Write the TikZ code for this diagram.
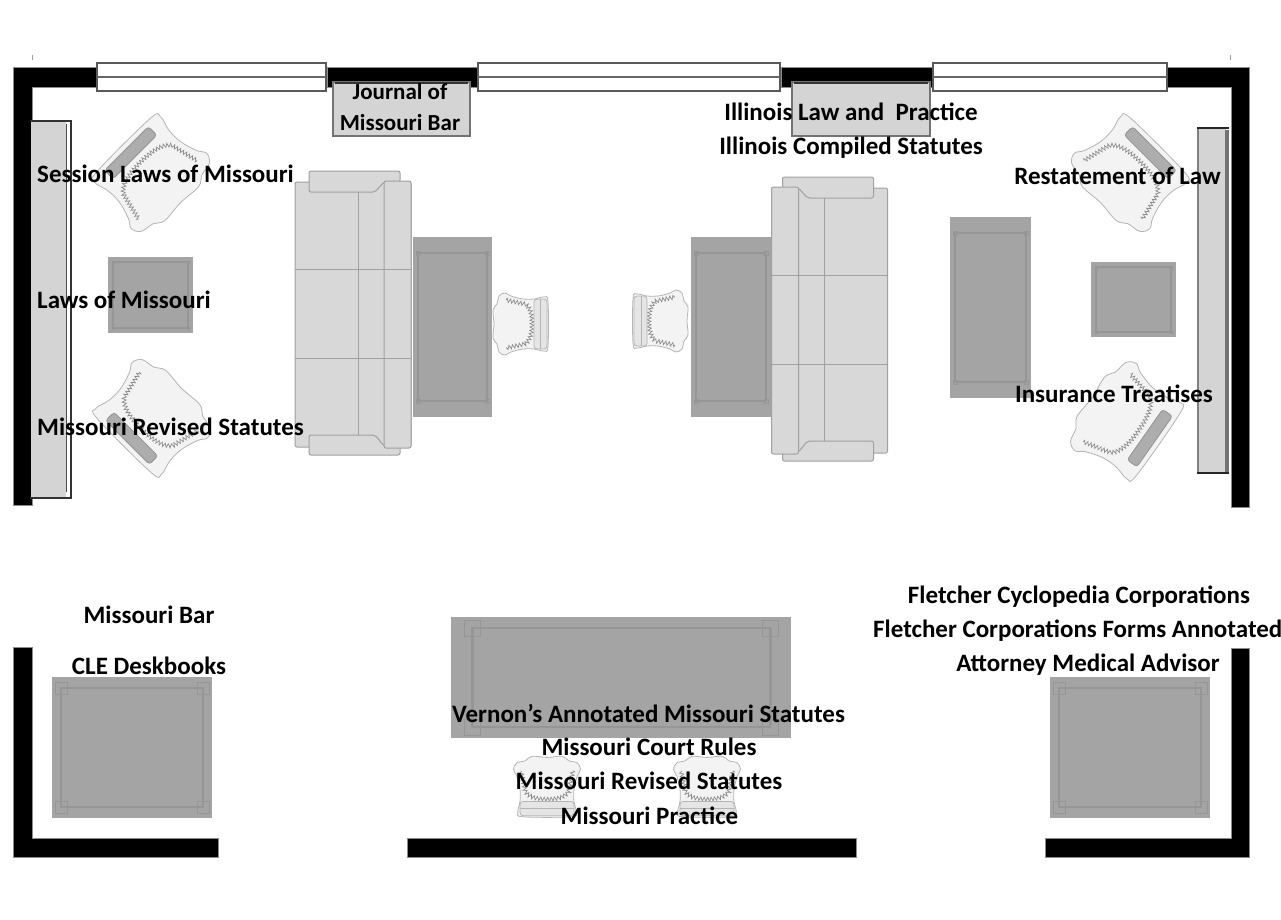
\documentclass[tikz,border=0pt]{standalone}
\usepackage{fontspec}
\setmainfont{Carlito}
\usetikzlibrary{decorations.pathmorphing}
\definecolor{shelfgray}{HTML}{D4D4D4}
\definecolor{tablegray}{HTML}{A4A4A4}
\definecolor{tableline}{HTML}{969696}
\definecolor{sofagray}{HTML}{D8D8D8}
\definecolor{sofaline}{HTML}{A0A0A0}
\definecolor{chairfill}{HTML}{F3F3F3}
\definecolor{chairline}{HTML}{B4B4B4}
\newcommand{\chairseat}{
  \draw[chairpart] plot[smooth cycle, tension=.6] coordinates {
    (-26,0) (-27,-14) (-23,-20) (-21,-28) (-15,-31) (-9,-28) (3,-25) (14,-25) (24,-27) (28,-22)
    (28,22) (24,27) (14,25) (3,25) (-9,28) (-15,31) (-21,28) (-23,20) (-27,14)};
  \draw[black!45, line width=.7pt, decorate, decoration={zigzag, segment length=3.5pt, amplitude=2pt}]
    (-14,-24) -- (5,-20) .. controls (10,-17) and (12,-10) .. (12,0) .. controls (12,10) and (10,17) .. (5,20) -- (-14,24);
}
\tikzset{
  wall/.style={fill=black, draw=black!45, line width=1pt},
  windowpane/.style={fill=white, draw=black!65, line width=2pt},
  shelf/.style={fill=shelfgray, draw=black!55, line width=1.5pt},
  booklabel/.style={font=\fontsize{25}{29}\selectfont\bfseries, inner sep=0pt, text=black},
  shelflabel/.style={booklabel, font=\fontsize{23}{27}\selectfont\bfseries},
  sofapart/.style={fill=sofagray, draw=sofaline, line width=1pt, rounded corners=2pt},
  chairpart/.style={fill=chairfill, draw=chairline, line width=.8pt},
  sofa/.pic={
    \draw[sofapart] (-58,-132) rectangle (58,133);
    \draw[sofapart] (-44,-143) -- (47,-143) -- (47,-132) -- (31,-132) -- (22,-122) -- (-44,-122) -- cycle;
    \draw[sofapart] (-44,141) -- (47,141) -- (47,132) -- (31,132) -- (22,121) -- (-44,121) -- cycle;
    \draw[sofapart] (31,-133) rectangle (58,134);
    \draw[sofaline, line width=1pt] (5,-122) -- (5,121);
    \draw[sofaline, line width=1pt] (-58,-45) -- (58,-45);
    \draw[sofaline, line width=1pt] (-58,44) -- (58,44);
  },
  smallchair/.pic={
    \chairseat
    \draw[fill=black!10, draw=chairline, line width=.8pt, rounded corners=3pt] (14,-25) rectangle (27,25);
    \draw[chairline, line width=.6pt] (20,-25) -- (20,25);
  },
  bigchair/.pic={
    \chairseat
    \draw[fill=black!32, draw=black!42, line width=.8pt, rounded corners=3pt] (17,-18) rectangle (25,18);
  },
}
\begin{document}
\begin{tikzpicture}[x=1pt, y=-1pt]
  \useasboundingbox (0,0) rectangle (1281,919);
  \fill[white] (0,0) rectangle (1281,919);
  \fill[blue!40!black!40] (31.5,55) rectangle (32.5,60);
  \fill[blue!40!black!40] (1229.5,55) rectangle (1230.5,60);

  % walls of the upper room
  \draw[wall] (13,67) -- (97,67) -- (97,87) -- (32,87) -- (32,505) -- (13,505) -- cycle;
  \draw[wall] (327,67) rectangle (478,87);
  \draw[wall] (781,67) rectangle (932,87);
  \draw[wall] (1167,67) -- (1249,67) -- (1249,507) -- (1231,507) -- (1231,87) -- (1167,87) -- cycle;

  % windows
  \foreach \xa/\xb in {97/326, 478/780, 933/1167} {
    \draw[windowpane] (\xa,63) rectangle (\xb,91);
    \draw[black!60, line width=2pt] (\xa,77) -- (\xb,77);
  }

  % shelves
  \draw[shelf] (333,82) rectangle (470,136);
  \draw[black!80, line width=1.5pt] (335,83) -- (468,83);
  \draw[shelf] (792,82) rectangle (930,136);
  \draw[black!80, line width=1.5pt] (794,83) -- (928,83);

  \fill[shelfgray] (31,122) rectangle (66,497);
  \draw[black!80, line width=2pt] (30,121) -- (72,121);
  \draw[black!80, line width=2.5pt] (30,498) -- (72,498);
  \draw[black!70, line width=1.2pt] (66.5,124) -- (66.5,492);
  \draw[black!80, line width=1.2pt] (71,122) -- (71,498);

  \fill[shelfgray] (1198,129) rectangle (1226,474);
  \draw[black!50, line width=2pt] (1198,128) -- (1198,474);
  \draw[black!55, line width=3.5pt] (1227,130) -- (1227,472);
  \draw[black!85, line width=2.5pt] (1197,128) -- (1229,128);
  \draw[black!85, line width=2.5pt] (1197,473) -- (1229,473);

  % tables: corners, inset of the frame, size of the leg marks
  \foreach \xa/\ya/\xb/\yb/\dx/\dy/\leg in {
      108/257/193/333/5/5/1, 1091/262/1176/337/5/5/1, 950/217/1031/398/5/16/2,
      413/237/492/417/5/16/2, 691/237/771/417/5/16/2,
      52/677/212/818/9/11/6, 1050/677/1210/818/9/11/6, 451/617/791/738/21/11/8} {
    \fill[tablegray] (\xa,\ya) rectangle (\xb,\yb);
    \draw[tableline, line width=1.5pt] (\xa+\dx,\ya+\dy) rectangle (\xb-\dx,\yb-\dy);
    \foreach \xc/\yc in {\xa+\dx/\ya+\dy, \xb-\dx/\ya+\dy, \xa+\dx/\yb-\dy, \xb-\dx/\yb-\dy}
      \draw[tableline, line width=.5pt] (\xc-\leg,\yc-\leg) rectangle (\xc+\leg,\yc+\leg);
  }
  \draw[tableline, line width=3pt] (472,628) -- (472,725);
  \draw[tableline, line width=3pt] (770,628) -- (770,725);

  % sofas
  \pic at (353,314) {sofa};
  \pic[xscale=-1] at (829.5,320) {sofa};

  % chairs
  \pic[rotate=135, xscale=1.5, yscale=1.72] at (153,175) {bigchair};
  \pic[rotate=225, xscale=1.5, yscale=1.72] at (154,416) {bigchair};
  \pic[rotate=45, xscale=1.5, yscale=1.72] at (1128,175) {bigchair};
  \pic[rotate=-35, xscale=1.5, yscale=1.72] at (1124,420) {bigchair};
  \pic at (520,324) {smallchair};
  \pic[rotate=180] at (661,321) {smallchair};
  \pic[rotate=-90, xscale=1.1, yscale=1.08] at (547,786) {smallchair};
  \pic[rotate=-90, xscale=1.1, yscale=1.08] at (707,786) {smallchair};

  % walls of the lower room
  \draw[wall] (13,647) -- (32,647) -- (32,838) -- (218,838) -- (218,857) -- (13,857) -- cycle;
  \draw[wall] (407,838) rectangle (856,857);
  \draw[wall] (1231,648) -- (1249,648) -- (1249,857) -- (1045,857) -- (1045,838) -- (1231,838) -- cycle;

  % labels
  \node[shelflabel] (journal) at (400,92) {Journal of};
  \node[shelflabel] (missouribar) at (400,123) {Missouri Bar};
  \node[booklabel] (illinoislaw) at (851,112) {Illinois Law and\ \ Practice};
  \node[booklabel] (illinoisstat) at (851,148) {Illinois Compiled Statutes};
  \node[booklabel] (session) at (165.5,174) {Session Laws of Missouri};
  \node[booklabel] (lawsmo) at (124,300) {Laws of Missouri};
  \node[booklabel] (revisedleft) at (170.5,427) {Missouri Revised Statutes};
  \node[booklabel] (restatement) at (1117.5,176) {Restatement of Law};
  \node[booklabel] (insurance) at (1114,394) {Insurance Treatises};
  \node[booklabel] (barlower) at (149,615) {Missouri Bar};
  \node[booklabel] (cle) at (149,666) {CLE Deskbooks};
  \node[booklabel] (cyclopedia) at (1079,597) {Fletcher Cyclopedia Corporations};
  \node[booklabel, anchor=west] (forms) at (873,631) {Fletcher Corporations Forms Annotated};
  \node[booklabel] (medical) at (1088,665) {Attorney Medical Advisor};
  \node[booklabel] (vernon) at (648.5,713) {Vernon’s Annotated Missouri Statutes};
  \node[booklabel] (courtrules) at (649,747) {Missouri Court Rules};
  \node[booklabel] (revisedlower) at (649,781) {Missouri Revised Statutes};
  \node[booklabel] (practice) at (649.5,816) {Missouri Practice};
\end{tikzpicture}
\end{document}
